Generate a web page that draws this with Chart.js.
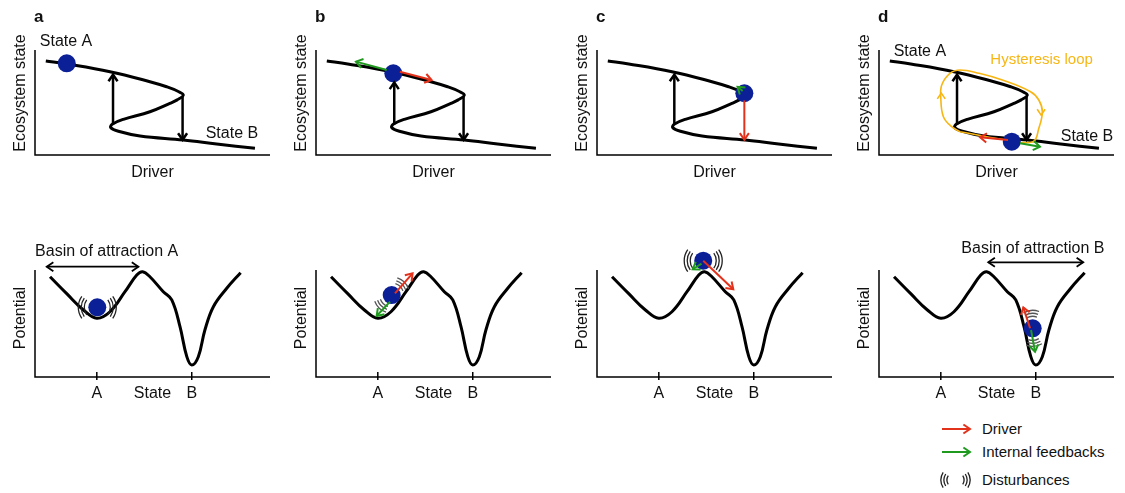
<!DOCTYPE html>
<html>
<head>
<meta charset="utf-8">
<title>Alternative stable states</title>
<script src="https://cdn.jsdelivr.net/npm/chart.js@4.4.1/dist/chart.umd.min.js"></script>
<style>
  html, body { margin: 0; padding: 0; background: #fff; }
  body { width: 1125px; height: 493px; position: relative; overflow: hidden;
         font-family: "Liberation Sans", Arial, Helvetica, sans-serif; color: #111; }
  .box { position: absolute; }
  .legend { position: absolute; left: 936px; top: 416px; width: 189px; height: 77px; }
  .legend canvas { position: absolute; left: 0; top: 0; }
  .legend span { position: absolute; left: 46px; font-size: 15px; line-height: 18px; white-space: nowrap; }
</style>
</head>
<body>
<div class="legend">
  <canvas id="legendMarks" width="44" height="77"></canvas>
  <span style="top:4px">Driver</span>
  <span style="top:27px">Internal feedbacks</span>
  <span style="top:55px">Disturbances</span>
</div>
<script>
// ---------- data ----------
// S-shaped equilibrium curve: driver vs ecosystem state
const driverS = [0.46, 1.35, 3.19, 4.89, 5.60, 6.10, 6.31, 6.05, 5.74, 4.89, 3.76, 3.30, 3.22, 3.55, 4.47, 6.31, 7.73, 9.36];
const stateS  = [8.95, 8.67, 7.93, 6.98, 6.50, 6.05, 5.70, 5.25, 4.92, 4.12, 3.40, 2.95, 2.62, 2.26, 1.81, 1.43, 1.05, 0.64];

// potential landscape: state vs potential
const stateV     = [0.64, 1.35, 2.06, 2.63, 3.19, 3.83, 4.33, 4.58, 4.89, 5.46, 5.82, 6.17, 6.46, 6.67, 6.95, 7.23, 7.59, 8.16, 8.75];
const potentialV = [9.37, 7.79, 6.26, 5.49, 6.10, 7.97, 9.53, 9.84, 9.37, 7.97, 7.20, 4.70, 1.90, 1.12, 1.90, 4.39, 6.57, 8.29, 9.75];
const stateTickValues = [2.63, 6.67];
const stateTickLabels = ['A', 'B'];

// hysteresis loop (panel d, top)
const loopDriver = [3.45, 4.58, 5.43, 6.55, 6.80, 6.95, 6.80, 6.45, 5.25, 4.26, 3.45, 3.02, 2.67, 2.63, 2.74, 3.09, 3.45];
const loopState  = [2.22, 1.74, 1.43, 1.27, 2.54, 4.13, 5.24, 6.03, 7.14, 7.78, 8.10, 7.78, 6.67, 5.40, 3.65, 2.70, 2.22];
const loopHeads  = [[2.65, 5.9, 'up'], [6.90, 3.8, 'down']];

const panelLetters = ['a', 'b', 'c', 'd'];

// ball position in each panel
const topBallDriver = [1.35, 3.29, 6.27, 5.65];
const topBallState  = [8.73, 7.78, 5.88, 1.27];
const lowBallState     = [2.65, 3.22, 4.52, 6.54];
const lowBallPotential = [6.51, 7.66, 10.87, 4.55];

// arrows: [x0, y0, x1, y1, kind]
const topArrows = [
  [[3.32, 2.9, 3.32, 7.65, 'k'], [6.28, 5.6, 6.28, 1.45, 'k']],
  [[3.33, 2.9, 3.33, 6.9, 'k'], [6.28, 5.6, 6.28, 1.45, 'k'], [3.01, 8.1, 1.70, 8.89, 'g'], [3.57, 7.93, 4.92, 7.14, 'r']],
  [[3.29, 2.9, 3.29, 7.65, 'k'], [6.27, 5.2, 6.27, 1.45, 'r'], [6.2, 6.1, 5.98, 6.5, 'g']],
  [[3.32, 2.9, 3.32, 7.65, 'k'], [6.28, 5.6, 6.28, 1.45, 'k'], [5.49, 1.43, 4.30, 1.69, 'r'], [6.0, 1.11, 6.85, 0.79, 'g']]
];
const lowArrows = [
  [[0.5, 10.31, 4.4, 10.31, 'kk']],
  [[3.36, 7.82, 4.11, 9.69, 'r'], [3.15, 7.04, 2.58, 5.70, 'g']],
  [[4.52, 10.87, 5.8, 8.2, 'r'], [4.45, 10.6, 4.07, 10.07, 'g']],
  [[6.43, 4.55, 6.14, 6.51, 'r'], [6.47, 4.39, 6.64, 2.36, 'g'], [4.65, 10.72, 8.69, 10.72, 'kk']]
];

// disturbance waves around the ball: angle of the wave axis in degrees
const waveAngles = [0, -46, 0, -95];

// text labels: [text, x, y]
const topLabels = [
  [['State A', 1.32, 10.76], ['State B', 8.38, 2.0]],
  [], [],
  [['State A', 1.74, 9.81], ['Hysteresis loop', 6.92, 9.05], ['State B', 8.85, 1.71]]
];
const lowLabels = [
  [['Basin of attraction A', 3.05, 11.73]],
  [], [],
  [['Basin of attraction B', 6.55, 12.03]]
];

// ---------- drawing ----------
const FONT = '"Liberation Sans", Arial, Helvetica, sans-serif';
const BLUE = '#0b1f97';
const RED = '#e3321c';
const GREEN = '#1f9a1f';
const ORANGE = '#f7b614';
const colLeft = [0, 281, 562, 844];

function arrowHead(ctx, x, y, ang, size) {
    ctx.beginPath();
    ctx.moveTo(x - size * Math.cos(ang - 0.6), y - size * Math.sin(ang - 0.6));
    ctx.lineTo(x, y);
    ctx.lineTo(x - size * Math.cos(ang + 0.6), y - size * Math.sin(ang + 0.6));
    ctx.stroke();
}

function drawArrow(ctx, x0, y0, x1, y1, kind) {
    const color = kind === 'r' ? RED : kind === 'g' ? GREEN : '#000';
    ctx.save();
    ctx.strokeStyle = color;
    ctx.lineWidth = kind === 'kk' ? 1.8 : kind === 'k' ? 2.5 : 2;
    ctx.lineCap = 'butt';
    ctx.lineJoin = 'miter';
    ctx.beginPath();
    ctx.moveTo(x0, y0);
    ctx.lineTo(x1, y1);
    ctx.stroke();
    const ang = Math.atan2(y1 - y0, x1 - x0);
    arrowHead(ctx, x1, y1, ang, 8);
    if (kind === 'kk') arrowHead(ctx, x0, y0, ang + Math.PI, 8);
    ctx.restore();
}

function drawWaves(ctx, cx, cy, angDeg, r0, span, color) {
    const a = angDeg * Math.PI / 180;
    ctx.save();
    ctx.strokeStyle = color;
    ctx.lineWidth = 1.3;
    [0, Math.PI].forEach(side => {
        for (let k = 0; k < 3; k++) {
            ctx.beginPath();
            ctx.arc(cx, cy, r0 + k * 3, a + side - span, a + side + span);
            ctx.stroke();
        }
    });
    ctx.restore();
}

function makeDecor(info) {
    return {
        id: 'decor',
        beforeDatasetsDraw(chart) {
            const { ctx, chartArea: ca, scales: { x, y } } = chart;
            const axisTop = y.getPixelForValue(info.axisTop);
            ctx.save();
            ctx.strokeStyle = '#000';
            ctx.lineWidth = 1.5;
            ctx.beginPath();
            ctx.moveTo(ca.left, axisTop);
            ctx.lineTo(ca.left, ca.bottom);
            ctx.lineTo(ca.right, ca.bottom);
            ctx.stroke();

            ctx.fillStyle = '#111';
            ctx.font = '16px ' + FONT;
            ctx.textAlign = 'center';
            ctx.textBaseline = 'alphabetic';
            ctx.fillText(info.xTitle, (ca.left + ca.right) / 2, ca.bottom + info.xGap);
            ctx.save();
            ctx.translate(ca.left - 10, ca.bottom - info.yLift);
            ctx.rotate(-Math.PI / 2);
            ctx.fillText(info.yTitle, 0, 0);
            ctx.restore();

            if (info.ticks) {
                stateTickValues.forEach((v, k) => {
                    const px = x.getPixelForValue(v);
                    ctx.beginPath();
                    ctx.moveTo(px, ca.bottom - 5);
                    ctx.lineTo(px, ca.bottom + 3);
                    ctx.stroke();
                    ctx.fillText(stateTickLabels[k], px, ca.bottom + info.xGap);
                });
            }
            if (info.letter) {
                ctx.font = 'bold 17px ' + FONT;
                ctx.textAlign = 'left';
                ctx.fillText(info.letter, ca.left - 1, axisTop - 28);
            }
            ctx.restore();
        },
        afterDatasetsDraw(chart) {
            const { ctx, scales: { x, y } } = chart;
            const px = v => x.getPixelForValue(v);
            const py = v => y.getPixelForValue(v);
            ctx.save();
            if (info.heads) {
                ctx.strokeStyle = ORANGE;
                ctx.lineWidth = 1.6;
                info.heads.forEach(h => {
                    arrowHead(ctx, px(h[0]), py(h[1]), h[2] === 'up' ? -Math.PI / 2 : Math.PI / 2, 7);
                });
            }
            if (info.wave) {
                const w = info.wave;
                drawWaves(ctx, px(w[0]), py(w[1]), w[2], w[3], w[4], w[5]);
            }
            info.arrows.forEach(a => drawArrow(ctx, px(a[0]), py(a[1]), px(a[2]), py(a[3]), a[4]));
            info.labels.forEach(l => {
                ctx.font = (l[0] === 'Hysteresis loop' ? '15px ' : '16px ') + FONT;
                ctx.fillStyle = l[0] === 'Hysteresis loop' ? ORANGE : '#111';
                ctx.textAlign = 'center';
                ctx.textBaseline = 'middle';
                ctx.fillText(l[0], px(l[1]), py(l[2]));
            });
            ctx.restore();
        }
    };
}

function addPanel(left, top, w, h, pad, yMax, datasets, info) {
    const box = document.createElement('div');
    box.className = 'box';
    box.style.left = left + 'px';
    box.style.top = top + 'px';
    const cv = document.createElement('canvas');
    cv.width = w;
    cv.height = h;
    box.appendChild(cv);
    document.body.appendChild(box);
    return new Chart(cv, {
        type: 'scatter',
        data: { datasets },
        options: {
            responsive: false,
            animation: false,
            events: [],
            layout: { padding: pad },
            plugins: { legend: { display: false }, tooltip: { enabled: false } },
            scales: {
                x: { type: 'linear', display: false, min: 0, max: 10 },
                y: { type: 'linear', display: false, min: 0, max: yMax }
            }
        },
        plugins: [makeDecor(info)]
    });
}

function curve(xs, ys, color, width, order) {
    return {
        data: xs.map((v, k) => ({ x: v, y: ys[k] })),
        showLine: true, borderColor: color, borderWidth: width, tension: 0.4,
        pointRadius: 0, order: order, clip: false
    };
}

function ball(xv, yv) {
    return {
        data: [{ x: xv, y: yv }], showLine: false, pointRadius: 9,
        backgroundColor: BLUE, borderColor: BLUE, borderWidth: 0, order: 0, clip: false
    };
}

for (let i = 0; i < 4; i++) {
    // ------- top row: equilibrium curve -------
    const topSets = [curve(driverS, stateS, '#000', 3, 3), ball(topBallDriver[i], topBallState[i])];
    if (i === 3) topSets.push(curve(loopDriver, loopState, ORANGE, 1.6, 1));
    addPanel(colLeft[i], 0, 281, 190, { left: 35, right: 11, top: 50, bottom: 35 }, 10, topSets, {
        xTitle: 'Driver', yTitle: 'Ecosystem state', xGap: 22, yLift: 62, axisTop: 10,
        letter: panelLetters[i], arrows: topArrows[i], labels: topLabels[i],
        heads: i === 3 ? loopHeads : null
    });

    // ------- bottom row: potential landscape (y range extended so the ball on the hill shows) -------
    const lowSets = [curve(stateV, potentialV, '#000', 3, 3), ball(lowBallState[i], lowBallPotential[i])];
    const soft = i === 1 || i === 3;
    addPanel(colLeft[i], 230, 281, 180, { left: 35, right: 11, top: 13.25, bottom: 33 }, 12.5, lowSets, {
        xTitle: 'State', yTitle: 'Potential', xGap: 21, yLift: 59, ticks: true, axisTop: 10,
        arrows: lowArrows[i], labels: lowLabels[i],
        wave: [lowBallState[i], lowBallPotential[i], waveAngles[i], soft ? 12 : 13, soft ? 0.45 : 0.62, soft ? '#555' : '#222']
    });
}

// ------- legend symbols -------
const lg = document.getElementById('legendMarks').getContext('2d');
drawArrow(lg, 6, 13, 34, 13, 'r');
drawArrow(lg, 6, 36, 34, 36, 'g');
drawWaves(lg, 19.5, 64, 0, 8.5, 0.55, '#222');
</script>
</body>
</html>
